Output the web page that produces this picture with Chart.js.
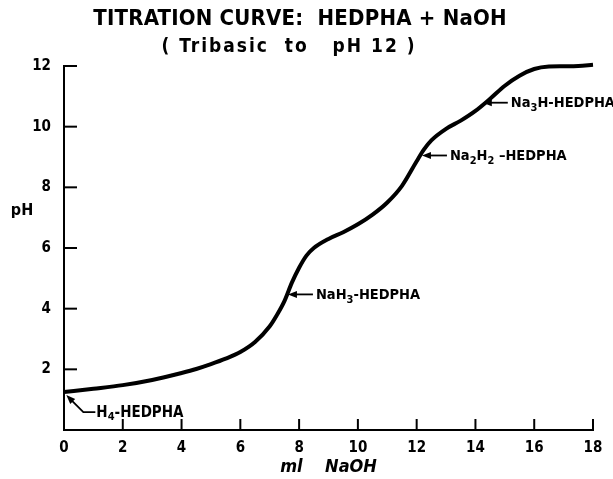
<!DOCTYPE html>
<html>
<head>
<meta charset="utf-8">
<script src="https://cdn.jsdelivr.net/npm/chart.js@4.4.1/dist/chart.umd.min.js"></script>
<style>
html,body{margin:0;padding:0;background:#fff;}
#wrap{position:relative;width:613px;height:479px;}
</style>
</head>
<body>
<div id="wrap"><canvas id="c" width="613" height="479"></canvas></div>
<script>
// ---- data ----
const mlNaOH = [0, 1, 2, 3, 4, 4.5, 5, 5.5, 6, 6.5, 7, 7.25, 7.5, 7.75, 8, 8.25, 8.5, 9, 9.5, 10, 10.5, 11, 11.5, 12, 12.25, 12.5, 13, 13.5, 14, 14.5, 15, 15.5, 16, 16.5, 17, 17.5, 18];
const pH     = [1.25, 1.36, 1.48, 1.65, 1.88, 2.01, 2.17, 2.35, 2.57, 2.9, 3.42, 3.8, 4.25, 4.85, 5.35, 5.75, 6.0, 6.3, 6.52, 6.78, 7.1, 7.5, 8.05, 8.86, 9.25, 9.55, 9.93, 10.2, 10.52, 10.92, 11.35, 11.68, 11.9, 11.98, 11.99, 12.0, 12.04];
const xTickValues = [0, 2, 4, 6, 8, 10, 12, 14, 16, 18];
const yTickValues = [2, 4, 6, 8, 10, 12];
const titleText = "TITRATION CURVE:  HEDPHA + NaOH";
const subtitleText = "( Tribasic  to   pH 12 )";
const xAxisTitle = "ml    NaOH";
const yAxisTitle = "pH";
// species labels: text parts (sub = subscript) and the point on the curve they mark
const speciesLabels = [
  [{t:"H"},{t:"4",sub:true},{t:"-HEDPHA"}],
  [{t:"NaH"},{t:"3",sub:true},{t:"-HEDPHA"}],
  [{t:"Na"},{t:"2",sub:true},{t:"H"},{t:"2",sub:true},{t:" \u2013HEDPHA"}],
  [{t:"Na"},{t:"3",sub:true},{t:"H-HEDPHA"}]
];
const speciesX = [0.08, 7.62, 12.18, 14.25];
const speciesY = [1.15, 4.47, 9.05, 10.79];

const FONT = "'Liberation Sans Narrow','DejaVu Sans Condensed','Liberation Sans',Arial,sans-serif";

function drawRich(ctx, parts, x, y, size){
  let cx = x;
  parts.forEach(p=>{
    if(p.sub){
      ctx.font = "bold " + Math.round(size*0.75) + "px " + FONT;
      ctx.fillText(p.t, cx, y + size*0.3);
    } else {
      ctx.font = "bold " + size + "px " + FONT;
      ctx.fillText(p.t, cx, y);
    }
    cx += ctx.measureText(p.t).width;
  });
}

function arrowHead(ctx, tx, ty, dx, dy){
  const len = Math.hypot(dx,dy); const ux = dx/len, uy = dy/len;
  const L = 9, W = 3.5;
  ctx.beginPath();
  ctx.moveTo(tx, ty);
  ctx.lineTo(tx + ux*L - uy*W, ty + uy*L + ux*W);
  ctx.lineTo(tx + ux*L + uy*W, ty + uy*L - ux*W);
  ctx.closePath();
  ctx.fill();
}

const decorPlugin = {
  id: 'decor',
  afterDraw(chart){
    const {ctx, chartArea:a, scales:{x, y}} = chart;
    ctx.save();
    ctx.strokeStyle = '#000'; ctx.fillStyle = '#000'; ctx.lineWidth = 2;
    // inward ticks
    xTickValues.forEach(v=>{ if(v===0) return; const px = x.getPixelForValue(v);
      ctx.beginPath(); ctx.moveTo(px, a.bottom); ctx.lineTo(px, a.bottom-11); ctx.stroke(); });
    yTickValues.forEach(v=>{ const py = y.getPixelForValue(v);
      ctx.beginPath(); ctx.moveTo(a.left, py); ctx.lineTo(a.left+13, py); ctx.stroke(); });
    // titles
    ctx.textAlign = 'center'; ctx.textBaseline = 'middle';
    ctx.font = "bold 22px " + FONT;
    ctx.letterSpacing = '0.2px';
    ctx.fillText(titleText, 300, 19);
    ctx.font = "bold 19px " + FONT;
    ctx.letterSpacing = '2px';
    ctx.fillText(subtitleText, 289, 47);
    ctx.letterSpacing = '0px';
    // y axis title (horizontal)
    ctx.font = "bold 16px " + FONT;
    ctx.fillText(yAxisTitle, 22, 211);
    // species labels with arrows
    ctx.textAlign = 'left';
    ctx.lineWidth = 1.8;
    speciesLabels.forEach((parts, i)=>{
      const tx = x.getPixelForValue(speciesX[i]);
      const ty = y.getPixelForValue(speciesY[i]);
      if(i===0){
        const mx = tx + 17, my = ty + 17;
        ctx.beginPath(); ctx.moveTo(tx+4, ty+4); ctx.lineTo(mx, my); ctx.lineTo(mx+12, my); ctx.stroke();
        arrowHead(ctx, tx, ty, 1, 1);
        drawRich(ctx, parts, mx+13, my+1, 15);
      } else {
        ctx.beginPath(); ctx.moveTo(tx+6, ty); ctx.lineTo(tx+25, ty); ctx.stroke();
        arrowHead(ctx, tx, ty, 1, 0);
        drawRich(ctx, parts, tx+28, ty+1, 14.5);
      }
    });
    ctx.restore();
  }
};

const ctx = document.getElementById('c').getContext('2d');
new Chart(ctx, {
  type: 'line',
  data: {
    datasets: [{
      data: mlNaOH.map((v,i)=>({x:v, y:pH[i]})),
      borderColor: '#000',
      borderWidth: 4,
      pointRadius: 0,
      fill: false,
      cubicInterpolationMode: 'monotone',
      clip: false
    }]
  },
  options: {
    responsive: false,
    animation: false,
    devicePixelRatio: 1,
    layout: { padding: { left: 0, right: 20, top: 66, bottom: 0 } },
    plugins: { legend: { display: false }, tooltip: { enabled: false }, title: { display: false } },
    scales: {
      x: {
        type: 'linear', min: 0, max: 18,
        afterBuildTicks: s => { s.ticks = xTickValues.map(v=>({value:v})); },
        grid: { display: false, drawTicks: false },
        border: { display: true, color: '#000', width: 2 },
        ticks: { color: '#000', padding: 9, maxRotation: 0, font: { family: FONT, size: 15, weight: 'bold' } },
        title: { display: true, text: xAxisTitle, color: '#000', padding: { top: 0, bottom: 1 },
                 font: { family: FONT, size: 18, weight: 'bold', style: 'italic' } },
        afterFit: s => { s.height = 49; }
      },
      y: {
        type: 'linear', min: 0, max: 12,
        afterBuildTicks: s => { s.ticks = yTickValues.map(v=>({value:v})); },
        grid: { display: false, drawTicks: false },
        border: { display: true, color: '#000', width: 2 },
        ticks: { color: '#000', padding: 13, font: { family: FONT, size: 15, weight: 'bold' } },
        afterFit: s => { s.width = 64; }
      }
    }
  },
  plugins: [decorPlugin]
});
</script>
</body>
</html>
